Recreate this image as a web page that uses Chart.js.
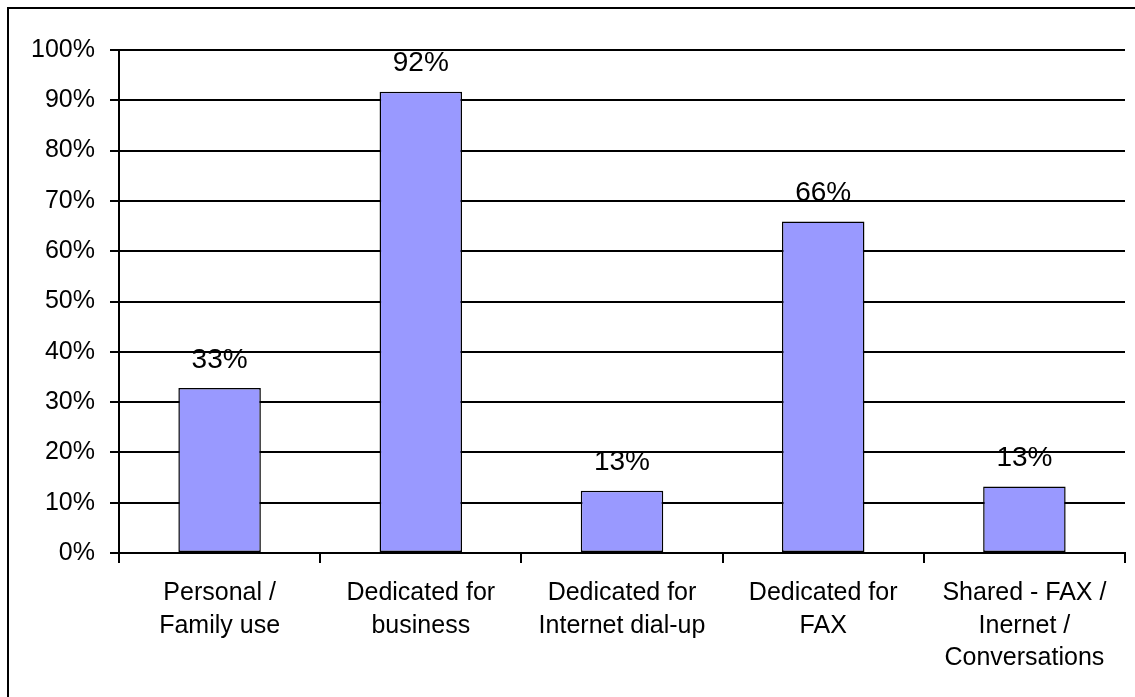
<!DOCTYPE html>
<html>
<head>
<meta charset="utf-8">
<script src="https://cdn.jsdelivr.net/npm/chart.js@4/dist/chart.umd.min.js"></script>
<style>
  html, body { margin: 0; padding: 0; background: #fff; }
  #frame { position: absolute; left: 7px; top: 7px; width: 1140px; height: 700px;
           border-left: 2px solid #000; border-top: 2px solid #000; }
  #wrap { position: absolute; left: 0; top: 0; width: 1135px; height: 697px; }
</style>
</head>
<body>
<div id="frame"></div>
<div id="wrap"><canvas id="myChart"></canvas></div>
<script>
// categories, line-broken as in the picture
const categories = [
  ['Personal /', 'Family use'],
  ['Dedicated for', 'business'],
  ['Dedicated for', 'Internet dial-up'],
  ['Dedicated for', 'FAX'],
  ['Shared - FAX /', 'Inernet /', 'Conversations']
];
// bar heights (percent)
const shares = [32.8, 91.7, 12.4, 65.9, 13.2];
// labels printed above the bars
const shareLabels = ['33%', '92%', '13%', '66%', '13%'];
const yTicks = [0, 10, 20, 30, 40, 50, 60, 70, 80, 90, 100];

const fontFamily = '"Liberation Sans", Arial, sans-serif';

// draws the percent text above each bar
const barLabels = {
  id: 'barLabels',
  afterDatasetsDraw(chart) {
    const ctx = chart.ctx;
    const meta = chart.getDatasetMeta(0);
    ctx.save();
    ctx.font = '28px ' + fontFamily;
    ctx.fillStyle = '#000';
    ctx.textAlign = 'center';
    ctx.textBaseline = 'middle';
    meta.data.forEach((bar, i) => {
      ctx.fillText(shareLabels[i], bar.x, bar.y - 28);
    });
    ctx.restore();
  }
};

const ctx = document.getElementById('myChart').getContext('2d');
const myChart = new Chart(ctx, {
  type: 'bar',
  data: {
    labels: categories,
    datasets: [{
      data: shares,
      backgroundColor: '#9999FF',
      borderColor: '#000',
      borderWidth: 1.5,
      borderSkipped: false,
      categoryPercentage: 1,
      barPercentage: 0.41
    }]
  },
  options: {
    responsive: true,
    maintainAspectRatio: false,
    animation: false,
    layout: { padding: { top: 50, right: 10, left: 0, bottom: 0 } },
    plugins: {
      legend: { display: false },
      tooltip: { enabled: false }
    },
    scales: {
      x: {
        offset: true,
        grid: {
          display: true,
          offset: true,
          drawOnChartArea: false,
          drawTicks: true,
          tickLength: 10,
          color: '#000',
          lineWidth: 2
        },
        border: { display: true, color: '#000', width: 2 },
        ticks: {
          color: '#000',
          font: { family: fontFamily, size: 25, lineHeight: 1.3 },
          padding: 14,
          maxRotation: 0,
          autoSkip: false
        },
        afterFit(scale) { scale.height = 144; }
      },
      y: {
        min: 0,
        max: 100,
        afterBuildTicks(scale) { scale.ticks = yTicks.map(v => ({ value: v })); },
        grid: {
          color: '#000',
          lineWidth: 2,
          drawTicks: true,
          tickLength: 9
        },
        border: { display: true, color: '#000', width: 2 },
        ticks: {
          color: '#000',
          font: { family: fontFamily, size: 25 },
          padding: 15,
          callback: v => v + '%'
        },
        afterFit(scale) { scale.width = 119; }
      }
    }
  },
  plugins: [barLabels]
});
</script>
</body>
</html>
